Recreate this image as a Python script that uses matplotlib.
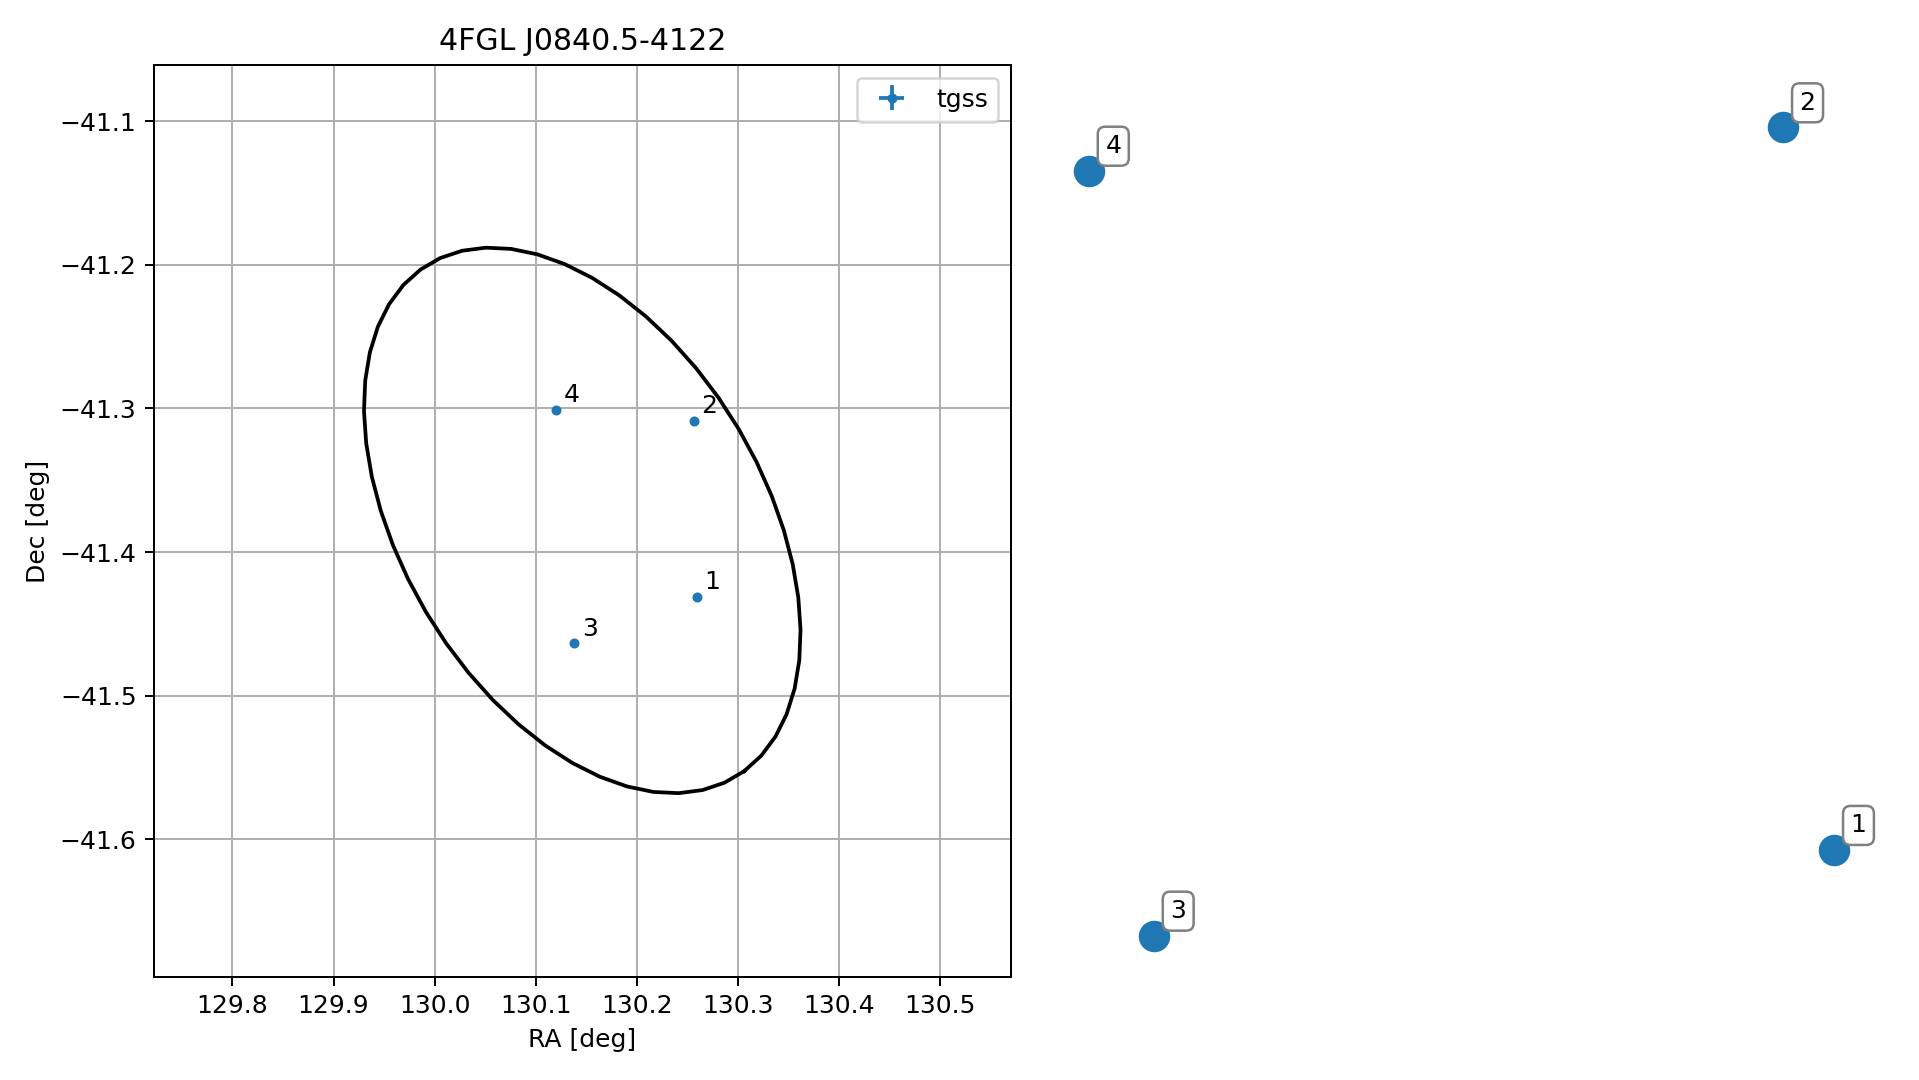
import numpy as np
import matplotlib
matplotlib.use("Agg")
import matplotlib.pyplot as plt

# ---- data ----
title = "4FGL J0840.5-4122"
labels = ["1", "2", "3", "4"]
ra = [130.2596, 130.2562, 130.1380, 130.1202]
dec = [-41.4313, -41.3086, -41.4635, -41.3009]
ra_err = [0.0006, 0.0006, 0.0006, 0.0006]
dec_err = [0.0006, 0.0006, 0.0006, 0.0006]

# ellipse (tangent plane, deg)
ell_ra = 130.146
ell_dec = -41.378
ell_a = 0.212
ell_b = 0.132
ell_pa = -55.5  # deg from +RA axis

# right-hand panel (normalised positions)
zoom_x = [0.9497, 0.8882, 0.1291, 0.0507]
zoom_y = [0.1393, 0.9317, 0.0453, 0.8841]

DPI = 180
fig = plt.figure(figsize=(1919 / DPI, 1080 / DPI), dpi=DPI)

ax = fig.add_axes([0.0803, 0.0954, 0.4465, 0.8444])
ax.set_axisbelow(True)
ax.grid(True, color="#b0b0b0", linewidth=0.8)

t = np.linspace(0, 2 * np.pi, 51)
th = np.deg2rad(ell_pa)
xi = ell_a * np.cos(t) * np.cos(th) - ell_b * np.sin(t) * np.sin(th)
eta = ell_a * np.cos(t) * np.sin(th) + ell_b * np.sin(t) * np.cos(th)
ax.plot(ell_ra + xi / np.cos(np.deg2rad(ell_dec)), ell_dec + eta, color="black", lw=1.5)

ax.errorbar(ra, dec, xerr=ra_err, yerr=dec_err, fmt=".", color="#1f77b4", label="tgss")
for x, y, lab in zip(ra, dec, labels):
    ax.annotate(lab, (x, y), xytext=(3, 3), textcoords="offset points", fontsize=10)

ax.set_xlim(129.7225, 130.570)
ax.set_ylim(-41.696, -41.0608)
ax.set_xticks([129.8, 129.9, 130.0, 130.1, 130.2, 130.3, 130.4, 130.5])
ax.set_xlabel("RA [deg]")
ax.set_ylabel("Dec [deg]")
ax.set_title(title)
ax.legend(loc="upper right")

ax2 = fig.add_axes([1047 / 1919, 0.0954, 829 / 1919, 0.8444])
ax2.plot(zoom_x, zoom_y, "o", color="#1f77b4", markersize=11.6, linestyle="none")
for x, y, lab in zip(zoom_x, zoom_y, labels):
    ax2.annotate(lab, (x, y), xytext=(6.5, 7), textcoords="offset points", fontsize=10,
                 bbox=dict(boxstyle="round", fc="white", ec="gray"))
ax2.set_xlim(0, 1)
ax2.set_ylim(0, 1)
ax2.axis("off")

fig.savefig("out.png", dpi=DPI)
